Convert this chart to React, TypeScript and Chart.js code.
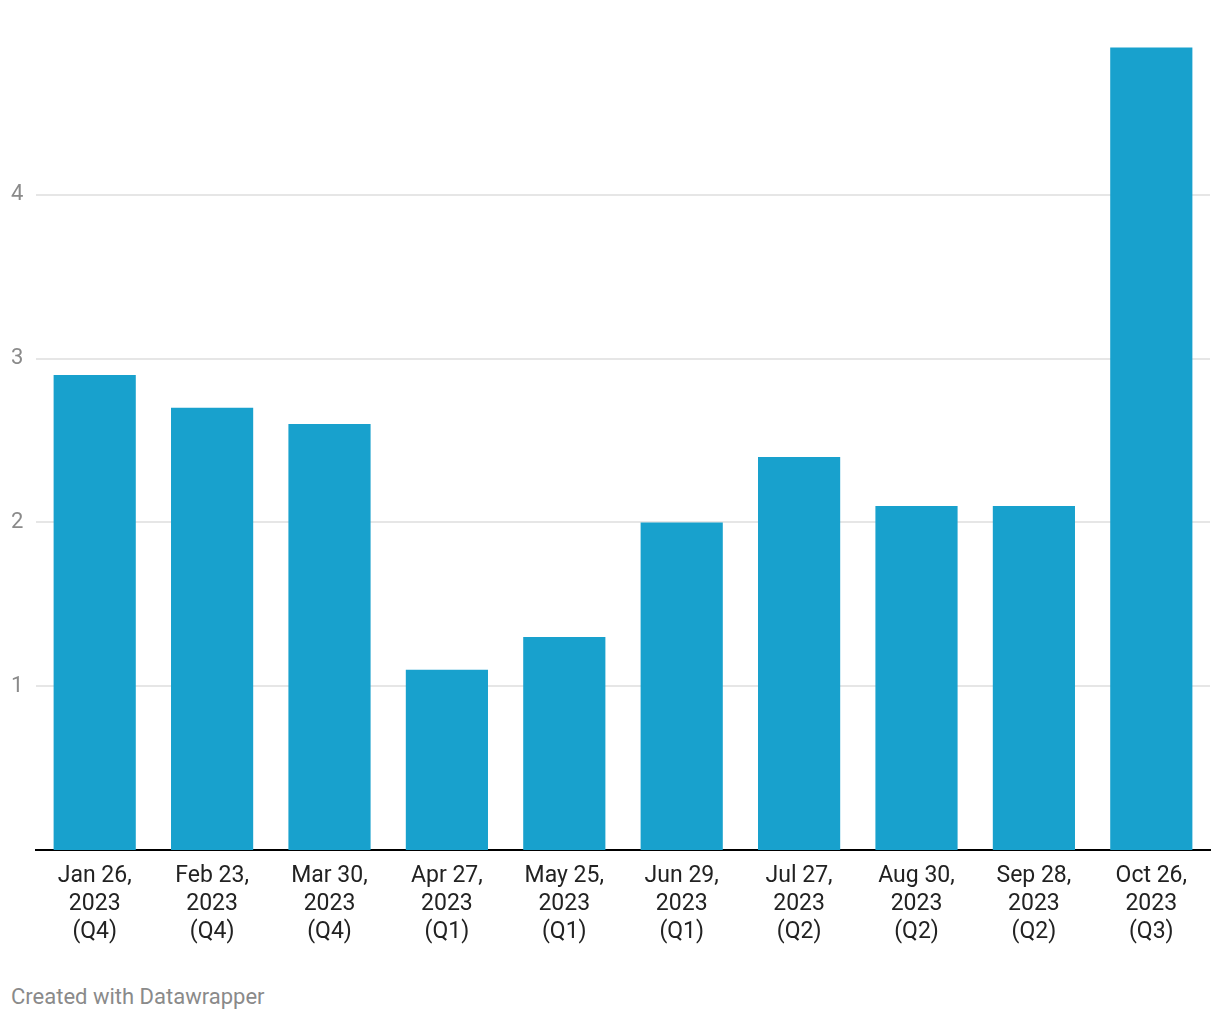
import React, { useEffect, useRef } from "react";
import { Chart, registerables } from "chart.js";

Chart.register(...registerables);

const categories: string[][] = [
  ["Jan 26,", "2023", "(Q4)"],
  ["Feb 23,", "2023", "(Q4)"],
  ["Mar 30,", "2023", "(Q4)"],
  ["Apr 27,", "2023", "(Q1)"],
  ["May 25,", "2023", "(Q1)"],
  ["Jun 29,", "2023", "(Q1)"],
  ["Jul 27,", "2023", "(Q2)"],
  ["Aug 30,", "2023", "(Q2)"],
  ["Sep 28,", "2023", "(Q2)"],
  ["Oct 26,", "2023", "(Q3)"],
];
const values: number[] = [2.9, 2.7, 2.6, 1.1, 1.3, 2.0, 2.4, 2.1, 2.1, 4.9];
const yTicks: number[] = [1, 2, 3, 4];

export default function App() {
  const ref = useRef<HTMLCanvasElement | null>(null);
  useEffect(() => {
    if (!ref.current) return;
    const chart = new Chart(ref.current, {
      type: "bar",
      data: {
        labels: categories,
        datasets: [
          {
            data: values,
            backgroundColor: "#18a1cd",
            barPercentage: 0.7,
            categoryPercentage: 1,
          },
        ],
      },
      options: {
        animation: false,
        responsive: false,
        maintainAspectRatio: false,
        layout: { padding: { top: 31, left: 11, right: 10, bottom: 0 } },
        plugins: { legend: { display: false }, tooltip: { enabled: false } },
        scales: {
          x: {
            grid: { display: false, drawTicks: false },
            border: { display: true, color: "#000000", width: 2 },
            ticks: {
              color: "#222222",
              font: { family: "Roboto", size: 23, lineHeight: 1.22 },
              padding: 12,
              maxRotation: 0,
              autoSkip: false,
            },
            afterFit: (s: any) => {
              s.height = 110;
            },
          },
          y: {
            min: 0,
            max: 5,
            afterBuildTicks: (s: any) => {
              s.ticks = yTicks.map((v) => ({ value: v }));
            },
            grid: { color: "#e6e6e6", lineWidth: 2, drawTicks: false },
            border: { display: false },
            ticks: {
              color: "#8a8a8a",
              font: { family: "Roboto", size: 22 },
              crossAlign: "far",
              padding: 0,
            },
            afterFit: (s: any) => {
              s.width = 25;
            },
          },
        },
      },
    });
    return () => chart.destroy();
  }, []);
  return (
    <div style={{ position: "fixed", left: 0, top: 0, width: 1220, height: 1020, background: "#fff" }}>
      <canvas ref={ref} width={1220} height={960} style={{ display: "block" }} />
      <div
        style={{
          position: "absolute",
          left: 11,
          top: 983,
          fontFamily: "Roboto",
          fontSize: 22,
          color: "#8a8a8a",
          lineHeight: "28px",
        }}
      >
        Created with Datawrapper
      </div>
    </div>
  );
}
